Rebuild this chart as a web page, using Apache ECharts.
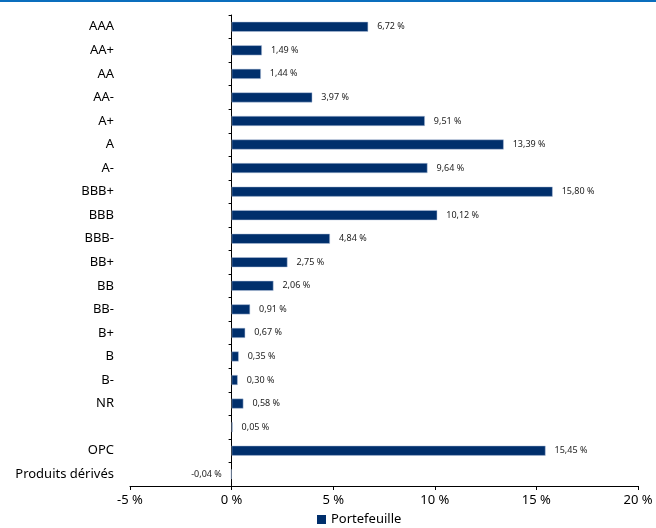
<!DOCTYPE html>
<html>
<head>
<meta charset="utf-8">
<script src="https://cdn.jsdelivr.net/npm/echarts@6/dist/echarts.min.js"></script>
<style>
  html, body { margin: 0; padding: 0; background: #fff; }
  #main { width: 656px; height: 528px; }
</style>
</head>
<body>
<div id="main"></div>
<script>
// notations (de haut en bas)
var categories = ["AAA", "AA+", "AA", "AA-", "A+", "A", "A-", "BBB+", "BBB", "BBB-",
  "BB+", "BB", "BB-", "B+", "B", "B-", "NR", "", "OPC", "Produits dérivés"];
var portefeuille = [6.72, 1.49, 1.44, 3.97, 9.51, 13.39, 9.64, 15.80, 10.12, 4.84,
  2.75, 2.06, 0.91, 0.67, 0.35, 0.30, 0.58, 0.05, 15.45, -0.04];
var xTicks = [-5, 0, 5, 10, 15, 20];

var fontFam = "'Noto Sans', sans-serif";
function pct(v) {
  return v.toFixed(2).replace(".", ",") + " %";
}

var myChart = echarts.init(document.getElementById("main"));
var option = {
  animation: false,
  textStyle: { fontFamily: fontFam },
  graphic: [{
    type: "rect",
    left: 0, top: 0,
    shape: { width: 656, height: 2 },
    style: { fill: "#0a6ebd" }
  }],
  grid: { left: 130, right: 18, top: 15, bottom: 42, containLabel: false, outerBoundsMode: "none" },
  legend: {
    data: ["Portefeuille"],
    bottom: -3,
    left: 312,
    icon: "rect",
    itemWidth: 9,
    itemHeight: 9,
    itemGap: 4,
    itemStyle: { borderWidth: 0 },
    textStyle: { fontSize: 13, color: "#000", fontFamily: fontFam }
  },
  xAxis: {
    type: "value",
    min: xTicks[0],
    max: xTicks[xTicks.length - 1],
    interval: 5,
    splitLine: { show: false },
    axisLine: { show: true, lineStyle: { color: "#000", width: 1 } },
    axisTick: { show: true, length: 4, lineStyle: { color: "#000" } },
    axisLabel: {
      fontSize: 13, color: "#000", margin: 8, fontFamily: fontFam,
      formatter: function (v) { return v + " %"; }
    }
  },
  yAxis: {
    type: "category",
    inverse: true,
    data: categories,
    axisLine: { show: true, onZero: true, lineStyle: { color: "#000", width: 1 } },
    axisTick: { show: true, length: 3, lineStyle: { color: "#000" } },
    axisLabel: { fontSize: 13, color: "#000", margin: 16, fontFamily: fontFam }
  },
  series: [{
    name: "Portefeuille",
    type: "bar",
    barWidth: 10,
    itemStyle: { color: "#002f6c", borderColor: "#b4c4dc", borderWidth: 0.5 },
    label: {
      show: true,
      position: "right",
      distance: 9,
      fontSize: 9,
      color: "#222",
      fontFamily: fontFam,
      formatter: function (p) { return pct(p.value); }
    },
    // label négatif à gauche
    data: portefeuille.map(function (v) {
      return v < 0 ? { value: v, label: { position: "left" } } : v;
    })
  }]
};
myChart.setOption(option);
</script>
</body>
</html>
